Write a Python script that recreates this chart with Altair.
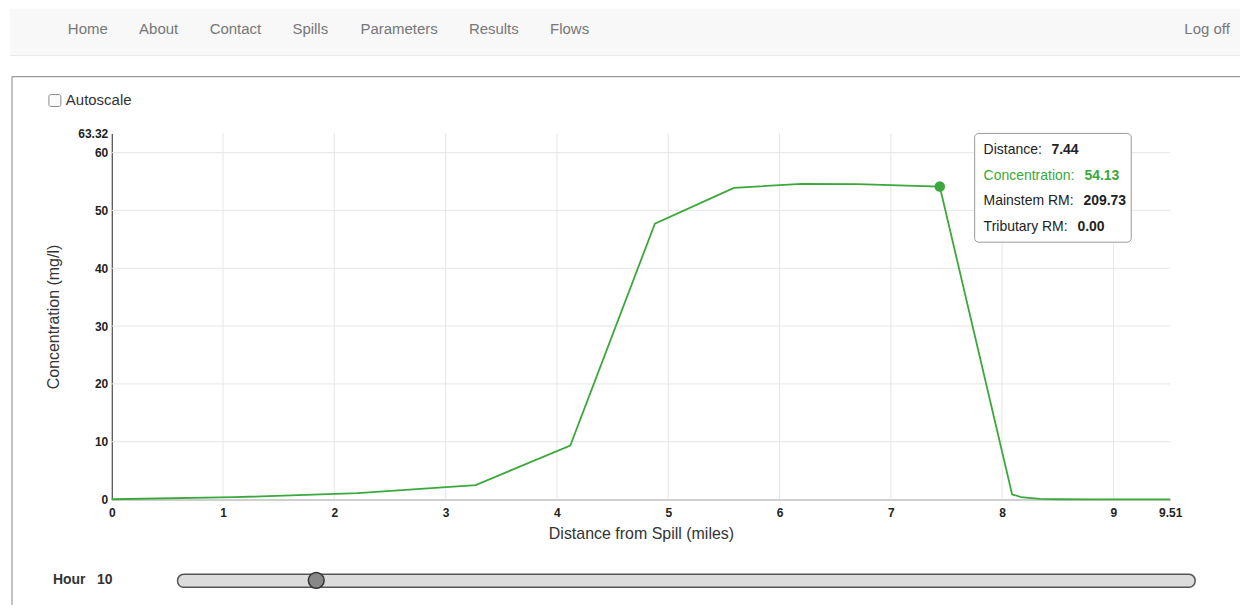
import altair as alt
import pandas as pd

# ---- data ----
distance = [0.0, 1.1, 2.21, 3.27, 4.12, 4.88, 5.59, 6.2, 6.7, 7.44,
            8.09, 8.13, 8.17, 8.24, 8.34, 8.5, 8.8, 9.51]
concentration = [0.05, 0.4, 1.1, 2.5, 9.35, 47.7, 53.9, 54.6, 54.55, 54.13,
                 0.86, 0.69, 0.4, 0.29, 0.11, 0.05, 0.03, 0.02]
x_ticks = [0, 1, 2, 3, 4, 5, 6, 7, 8, 9, 9.51]
y_ticks = [0, 10, 20, 30, 40, 50, 60, 63.32]
x_grid = [1, 2, 3, 4, 5, 6, 7, 8, 9]
y_grid = [10, 20, 30, 40, 50, 60]
hover_point = {"d": 7.44, "c": 54.13}
tip_labels = ["Distance:", "Concentration:", "Mainstem RM:", "Tributary RM:"]
tip_values = ["7.44", "54.13", "209.73", "0.00"]
nav_items = ["Home", "About", "Contact", "Spills", "Parameters", "Results", "Flows"]
hour_label = "Hour\u00a0\u00a0\u00a010"

X_MAX = 9.51
Y_MAX = 63.32
W, H = 1061, 367
GREEN = "#3ba83b"
FONT = "Liberation Sans"

df = pd.DataFrame({"d": distance, "c": concentration})
one = alt.Data(values=[{"k": 1}])

xs = alt.Scale(domain=[0, X_MAX], nice=False, zero=False)
ys = alt.Scale(domain=[0, Y_MAX], nice=False, zero=False)

x_axis = alt.Axis(values=x_ticks, grid=False, ticks=False, labelPadding=8,
                  labelExpr="toString(datum.value)", labelFontWeight="bold",
                  labelFontSize=12, labelColor="#222", domainColor="#cfcfcf",
                  domainWidth=2, titleFontSize=16, titleFontWeight="normal",
                  titleColor="#333", titlePadding=7, labelFlush=False,
                  labelOverlap=False)
y_axis = alt.Axis(values=y_ticks, grid=False, ticks=False, labelPadding=4,
                  labelExpr="toString(datum.value)", labelFontWeight="bold",
                  labelFontSize=12, labelColor="#222", domainColor="#222",
                  domainWidth=1, titleFontSize=16, titleFontWeight="normal",
                  titleColor="#333", titlePadding=16, labelFlush=False,
                  labelOverlap=False)
X_TITLE = "Distance from Spill (miles)"
Y_TITLE = "Concentration (mg/l)"

layers = []

# ---- page decorations (outside the plot) ----
def rect(x, x2, y, y2, **kw):
    return alt.Chart(one).mark_rect(**kw).encode(
        x=alt.value(x), x2=alt.value(x2), y=alt.value(y), y2=alt.value(y2))

def rule(x, x2, y, y2, **kw):
    return alt.Chart(one).mark_rule(**kw).encode(
        x=alt.value(x), x2=alt.value(x2), y=alt.value(y), y2=alt.value(y2))

def text(t, x, y, **kw):
    return alt.Chart(one).mark_text(text=t, font=FONT, **kw).encode(
        x=alt.value(x), y=alt.value(y))

# ---- grid (data driven) ----
layers.append(alt.Chart(pd.DataFrame({"g": x_grid})).mark_rule(color="#e6e6e6", strokeWidth=1).encode(
    x=alt.X("g:Q", scale=xs, axis=x_axis, title=X_TITLE), y=alt.value(0), y2=alt.value(H)))
layers.append(alt.Chart(pd.DataFrame({"g": y_grid})).mark_rule(color="#e6e6e6", strokeWidth=1).encode(
    y=alt.Y("g:Q", scale=ys, axis=y_axis, title=Y_TITLE), x=alt.value(0), x2=alt.value(W)))

# ---- main line ----
line = alt.Chart(df).mark_line(color=GREEN, strokeWidth=1.8).encode(
    x=alt.X("d:Q", scale=xs, axis=x_axis, title=X_TITLE),
    y=alt.Y("c:Q", scale=ys, axis=y_axis, title=Y_TITLE),
)
layers.append(line)

hp = alt.Chart(pd.DataFrame([hover_point])).mark_circle(size=110, opacity=1, color=GREEN).encode(
    x=alt.X("d:Q", scale=xs, axis=x_axis, title=X_TITLE),
    y=alt.Y("c:Q", scale=ys, axis=y_axis, title=Y_TITLE))
layers.append(hp)

# nav bar
layers.append(rect(-102, 1140, -125, -78, color="#f8f8f8"))
layers.append(rule(-102, 1140, -78, -78, color="#e7e7e7", strokeWidth=1))
nav_x = [-24, 47, 124, 199, 288, 383, 459]
for label, px in zip(nav_items, nav_x):
    layers.append(text(label, px, -105, fontSize=15, color="#777", align="center", baseline="middle"))
layers.append(text("Log off", 1098, -105, fontSize=15, color="#777", align="center", baseline="middle"))

# content box border
layers.append(rule(-100, 1140, -57, -57, color="#999", strokeWidth=1.2))
layers.append(rule(-100, -100, -57, 480, color="#999", strokeWidth=1.2))

# autoscale checkbox
layers.append(rect(-63, -51, -39, -27, fill="#fafafa", stroke="#8a8a8a", strokeWidth=1, cornerRadius=2))
layers.append(text("Autoscale", -46, -33, fontSize=15, color="#333", align="left", baseline="middle"))

# slider
layers.append(text(hour_label, -59, 448, fontSize=14, fontWeight="bold", color="#333",
                   align="left", baseline="middle"))
layers.append(rect(66, 1086, 442, 455, fill="#dcdcdc", stroke="#555", strokeWidth=1.5, cornerRadius=6))
layers.append(alt.Chart(one).mark_circle(size=250, opacity=1, color="#888", stroke="#333",
                                         strokeWidth=1.5).encode(x=alt.value(205), y=alt.value(448)))

# ---- tooltip ----
layers.append(rect(865, 1022, 0, 109, fill="white", stroke="#999", strokeWidth=1, cornerRadius=4))
tip_y = [17, 43, 68, 94]
tip_vx = [942, 975, 974, 968]
for i, (lab, val) in enumerate(zip(tip_labels, tip_values)):
    col = GREEN if i == 1 else "#222"
    layers.append(text(lab, 874, tip_y[i], fontSize=14, color=col, align="left", baseline="middle"))
    layers.append(text(val, tip_vx[i], tip_y[i], fontSize=14, fontWeight="bold", color=col,
                       align="left", baseline="middle"))

chart = alt.layer(*layers).properties(
    width=W, height=H,
    autosize=alt.AutoSizeParams(type="none"),
    padding={"left": 104, "top": 125, "right": 70, "bottom": 105},
).configure(font=FONT, background="white").configure_view(strokeWidth=0)

chart.save("out.html", embed_options={"renderer": "svg", "actions": False})
